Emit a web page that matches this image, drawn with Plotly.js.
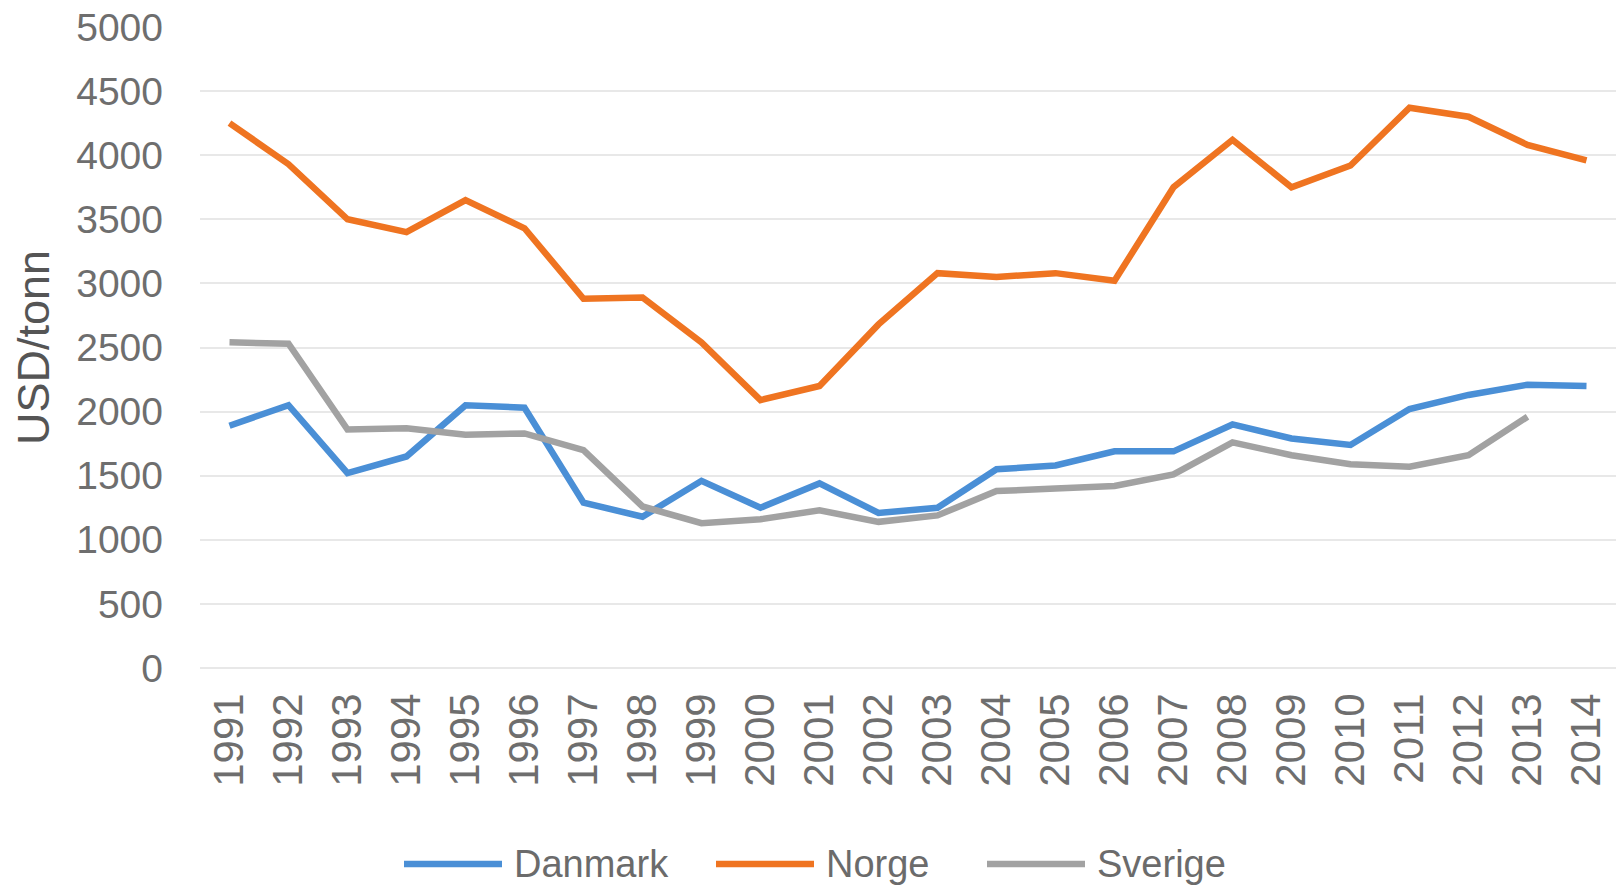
<!DOCTYPE html>
<html>
<head>
<meta charset="utf-8">
<script src="https://cdn.plot.ly/plotly-3.0.1.min.js"></script>
<style>html,body{margin:0;padding:0;background:#fff;}#chart{width:1623px;height:891px;}</style>
</head>
<body>
<div id="chart"></div>
<script>
const years = ["1991","1992","1993","1994","1995","1996","1997","1998","1999","2000","2001","2002","2003","2004","2005","2006","2007","2008","2009","2010","2011","2012","2013","2014"];
const danmark = [1890,2050,1520,1650,2050,2030,1290,1180,1460,1250,1440,1210,1250,1550,1580,1690,1690,1900,1790,1740,2020,2130,2210,2200];
const norge = [4250,3930,3500,3400,3650,3430,2880,2890,2540,2090,2200,2680,3080,3050,3080,3020,3750,4120,3750,3920,4370,4300,4080,3960];
const sverige = [2540,2530,1860,1870,1820,1830,1700,1260,1130,1160,1230,1140,1190,1380,1400,1420,1510,1760,1660,1590,1570,1660,1960,null];
const seriesNames = ["Danmark","Norge","Sverige"];
const seriesColors = ["#4a8fd6","#ef7421","#a2a2a2"];
const yTitle = "USD/tonn";

const allValues = [danmark, norge, sverige];
const traces = allValues.map((vals, i) => ({
  x: years, y: vals, name: seriesNames[i], type: 'scatter', mode: 'lines',
  line: {color: seriesColors[i], width: 6.5}, connectgaps: false, showlegend: false
}));

// Legend drawn in paper coordinates (long line samples like the original)
const plotL = 200, plotW = 1416, plotB = 668, plotH = 641;
const legendStartsPx = [404, 716, 987];
const legendLineLen = 98, legendTextGap = 10, legendYpx = 864;
const toPX = px => (px - plotL) / plotW;
const toPY = py => (plotB - py) / plotH;
const shapes = [], annotations = [];
seriesNames.forEach((name, i) => {
  const x0 = legendStartsPx[i];
  shapes.push({type: 'line', xref: 'paper', yref: 'paper',
    x0: toPX(x0), x1: toPX(x0 + legendLineLen), y0: toPY(legendYpx), y1: toPY(legendYpx),
    line: {color: seriesColors[i], width: 6.5}});
  annotations.push({xref: 'paper', yref: 'paper', x: toPX(x0 + legendLineLen + legendTextGap), y: toPY(legendYpx),
    xanchor: 'left', yanchor: 'middle', showarrow: false, text: name,
    font: {family: "Liberation Sans, Arial, sans-serif", size: 38, color: '#6b6b6b'}});
});

const tickFont = {family: "Liberation Sans, Arial, sans-serif", size: 39, color: '#6e6e6e'};
const layout = {
  width: 1623, height: 891,
  margin: {l: 200, r: 7, t: 27, b: 223},
  paper_bgcolor: '#fff', plot_bgcolor: '#fff',
  showlegend: false,
  shapes: shapes, annotations: annotations,
  xaxis: {type: 'category', range: [-0.5, 23.5], tickangle: -90, showgrid: false,
          zeroline: false, showline: false, ticks: '', ticklabelstandoff: 16, automargin: false,
          tickfont: {family: "Liberation Sans, Arial, sans-serif", size: 42, color: '#6e6e6e'}},
  yaxis: {range: [0, 5000], dtick: 500, tick0: 0, showgrid: true, gridcolor: '#e8e8e8', gridwidth: 2,
          zeroline: true, zerolinecolor: '#e8e8e8', zerolinewidth: 2, showline: false, ticks: '',
          ticklabelstandoff: 36, automargin: false,
          tickfont: tickFont,
          title: {text: yTitle, standoff: 12, font: {family: "Liberation Sans, Arial, sans-serif", size: 45, color: '#555'}}}
};
Plotly.newPlot('chart', traces, layout, {displayModeBar: false, staticPlot: true});
</script>
</body>
</html>
